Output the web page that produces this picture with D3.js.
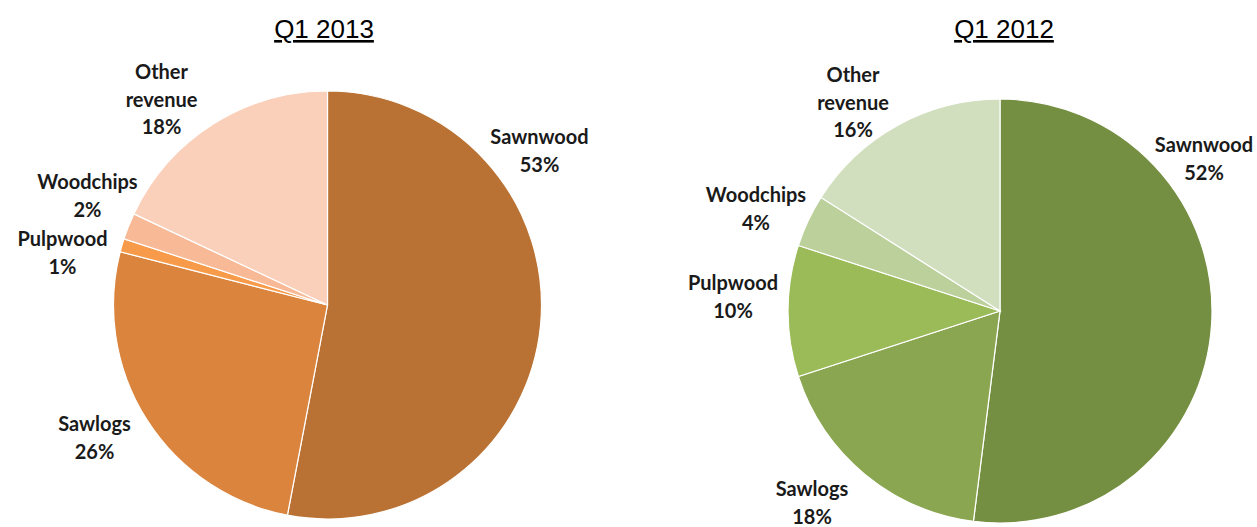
<!DOCTYPE html>
<html lang="en">
<head>
  <meta charset="utf-8">
  <script src="https://d3js.org/d3.v7.min.js"></script>
  <style>
    body { margin: 0; background: #fff; }
    .lbl { font-family: Lato, "Open Sans", sans-serif; font-weight: bold; font-size: 20px; fill: #1a1a1a; }
    .title { font-family: "Liberation Sans", Arial, sans-serif; font-size: 26px; fill: #000; }
  </style>
</head>
<body>
<script>
// data
const categories = ["Sawnwood", "Sawlogs", "Pulpwood", "Woodchips", "Other revenue"];
const values2013 = [53, 26, 1, 2, 18];
const values2012 = [52, 18, 10, 4, 16];
const titles = ["Q1 2013", "Q1 2012"];

const colors2013 = ["#b97233", "#da843e", "#f79a4a", "#f8b996", "#fbd0ba"];
const colors2012 = ["#758f42", "#8aa651", "#9bbb59", "#bbd09a", "#d1dfbf"];

// label anchors relative to pie centre (layout only)
const labelPos2013 = [[212, -161], [-233, 126], [-265, -59], [-240, -116], [-166, -226]];
const labelPos2012 = [[204, -159], [-188, 185], [-267, -21], [-244, -109], [-147, -229]];

const width = 1257, height = 527;

const svg = d3.select("body").append("svg")
  .attr("width", width)
  .attr("height", height);

function drawPie(cx, cy, r, values, colors, labelPos, title, titleX) {
  const g = svg.append("g").attr("transform", "translate(" + cx + "," + cy + ")");
  const pie = d3.pie().sort(null).value(d => d.value);
  const arc = d3.arc().innerRadius(0).outerRadius(r);
  const data = categories.map((c, i) => ({name: c, value: values[i]}));
  const arcs = pie(data);

  g.selectAll("path")
    .data(arcs)
    .enter().append("path")
    .attr("d", arc)
    .attr("fill", (d, i) => colors[i])
    .attr("stroke", "#fff")
    .attr("stroke-width", 1.2);

  const lbl = g.selectAll("text.lbl")
    .data(arcs)
    .enter().append("text")
    .attr("class", "lbl")
    .attr("text-anchor", "middle")
    .attr("x", (d, i) => labelPos[i][0])
    .attr("y", (d, i) => labelPos[i][1]);

  lbl.each(function(d, i) {
    const t = d3.select(this);
    const words = d.data.name === "Other revenue" ? ["Other", "revenue"] : [d.data.name];
    const lines = words.concat([d.data.value + "%"]);
    lines.forEach((w, k) => {
      t.append("tspan")
        .attr("x", labelPos[i][0])
        .attr("dy", k === 0 ? 0 : 27.5)
        .text(w);
    });
  });

  svg.append("text")
    .attr("class", "title")
    .attr("x", titleX)
    .attr("y", 38)
    .attr("text-anchor", "middle")
    .attr("text-decoration", "underline")
    .text(title);
}

drawPie(327.5, 305, 214, values2013, colors2013, labelPos2013, titles[0], 324);
drawPie(1000, 311, 212, values2012, colors2012, labelPos2012, titles[1], 1004);
</script>
</body>
</html>
